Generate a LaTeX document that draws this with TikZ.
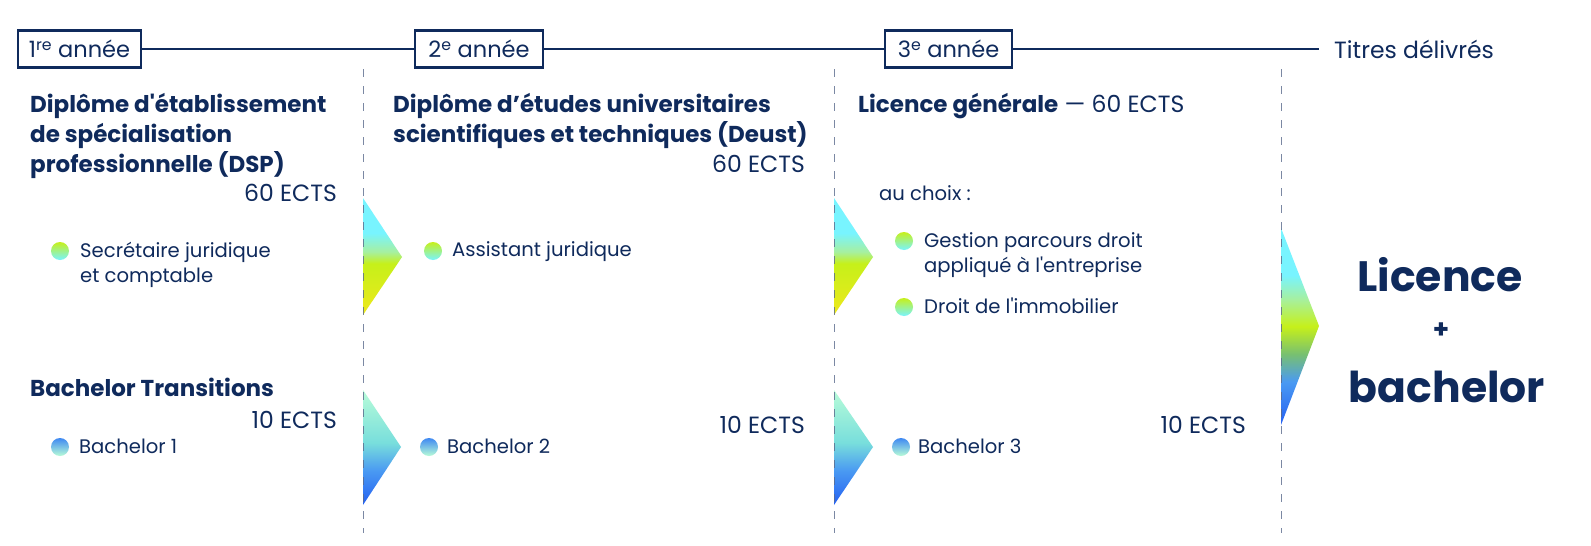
\documentclass[tikz,border=0pt]{standalone}
\usepackage{fontspec}
\setmainfont{Poppins}[Ligatures=TeXOff]
\definecolor{navy}{HTML}{0F2A5C}
\definecolor{dashc}{HTML}{5A6B8C}
% licence arrow colours
\definecolor{lc}{HTML}{78F4FF}
\definecolor{lc2}{HTML}{A6F0A0}
\definecolor{lg}{HTML}{C6F01A}
\definecolor{ly}{HTML}{EEE81C}
% bachelor arrow colours
\definecolor{bm}{HTML}{B8FCD8}
\definecolor{bt}{HTML}{78DEDC}
\definecolor{bb}{HTML}{4A9AF2}
\definecolor{bd}{HTML}{2460F2}
% final arrow
\definecolor{fg}{HTML}{78C070}
\pgfdeclareverticalshading{licshade}{100bp}{color(0bp)=(ly); color(25bp)=(ly); color(47bp)=(lg); color(52bp)=(lc2); color(60bp)=(lc); color(75bp)=(lc); color(100bp)=(lc)}
\pgfdeclareverticalshading{bachshade}{100bp}{color(0bp)=(bd); color(25bp)=(bd); color(40bp)=(bb); color(52bp)=(bt); color(75bp)=(bm); color(100bp)=(bm)}
\pgfdeclareverticalshading{finshade}{100bp}{color(0bp)=(bd); color(25bp)=(bd); color(36bp)=(bb); color(43bp)=(fg); color(50bp)=(lg); color(57bp)=(lc2); color(63bp)=(lc); color(75bp)=(lc); color(100bp)=(lc)}
\tikzset{
  yearbox/.style={draw=navy, line width=2.2pt, minimum height=37pt, inner sep=0pt, text=navy, font=\fontsize{22.5}{25}\selectfont},
  hline/.style={navy, line width=2pt},
  dashline/.style={dashc, line width=1pt, dash pattern=on 8pt off 9pt},
  titletext/.style={inner sep=0pt, text=navy, align=left, font=\bfseries\fontsize{23}{30}\selectfont},
  bodytext/.style={inner sep=0pt, text=navy, align=left, font=\fontsize{19.6}{25}\selectfont},
  ectstext/.style={inner sep=0pt, text=navy, font=\fontsize{23.5}{26}\selectfont},
  lbullet/.style={top color=lg, bottom color=lc},
  bbullet/.style={top color=bb!70!bd, bottom color=bm},
  bigtext/.style={inner sep=0pt, text=navy, font=\bfseries\fontsize{42.5}{52}\selectfont},
}
\begin{document}
\begin{tikzpicture}[x=1pt,y=-1pt]
\useasboundingbox[fill=white] (0,0) rectangle (1591,546);

% header
\node[yearbox, minimum width=123pt] (b1) at (79.5,49) {1\textsuperscript{re} année};
\node[yearbox, minimum width=128pt] (b2) at (479,49) {2\textsuperscript{e} année};
\node[yearbox, minimum width=127pt] (b3) at (948.5,49) {3\textsuperscript{e} année};
\coordinate (lend) at (1319,49);
\draw[hline] (b1) -- (b2);
\draw[hline] (b2) -- (b3);
\draw[hline] (b3) -- (lend);
\node[ectstext, anchor=base west] (titres) at (1334,58) {Titres délivrés};

% arrows
\shade[shading=licshade] (363,198) -- (402,257) -- (363,315) -- cycle;
\shade[shading=bachshade] (363,390) -- (401,447) -- (363,505) -- cycle;
\shade[shading=licshade] (834,198) -- (873,257) -- (834,315) -- cycle;
\shade[shading=bachshade] (834,390) -- (873,447) -- (834,505) -- cycle;
\shade[shading=finshade] (1281,228) -- (1319,326) -- (1281,425) -- cycle;

% dashed separators
\draw[dashline, opacity=0.8] (363,69) -- (363,533);
\draw[dashline, opacity=0.8] (834,69) -- (834,533);
\draw[dashline, opacity=0.8] (1281,69) -- (1281,533);

% column 1
\node[titletext, anchor=base west] (t1) at (30,172) {Diplôme d'établissement\\de spécialisation\\professionnelle (DSP)};
\node[ectstext, anchor=base east] (e1) at (337,201) {60 ECTS};
\shade[lbullet] (60,251) circle (9);
\node[bodytext, anchor=base west] (s1) at (80,282) {Secrétaire juridique\\et comptable};
\node[titletext, anchor=base west] (t1b) at (30,396) {Bachelor Transitions};
\node[ectstext, anchor=base east] (e1b) at (337,428) {10 ECTS};
\shade[bbullet] (60,447) circle (9);
\node[bodytext, anchor=base west] (s1b) at (79,453) {Bachelor 1};

% column 2
\node[titletext, anchor=base west] (t2) at (393,142) {Diplôme d’études universitaires\\scientifiques et techniques (Deust)};
\node[ectstext, anchor=base east] (e2) at (805,172) {60 ECTS};
\shade[lbullet] (433,251) circle (9);
\node[bodytext, anchor=base west] (s2) at (452,256) {Assistant juridique};
\node[ectstext, anchor=base east] (e2b) at (805,433) {10 ECTS};
\shade[bbullet] (429,447) circle (9);
\node[bodytext, anchor=base west] (s2b) at (447,453) {Bachelor 2};

% column 3
\node[ectstext, anchor=base west] (t3) at (858,112) {{\bfseries\fontsize{23}{30}\selectfont Licence générale} — 60 ECTS};
\node[bodytext, anchor=base west] (ch) at (879,200) {au choix :};
\shade[lbullet] (904,241) circle (9);
\node[bodytext, anchor=base west] (s3a) at (924,272) {Gestion parcours droit\\appliqué à l'entreprise};
\shade[lbullet] (904,307) circle (9);
\node[bodytext, anchor=base west] (s3b) at (924,313) {Droit de l'immobilier};
\node[ectstext, anchor=base east] (e3b) at (1246,433) {10 ECTS};
\shade[bbullet] (901,447) circle (9);
\node[bodytext, anchor=base west] (s3c) at (918,453) {Bachelor 3};

% final titles
\node[bigtext, anchor=base] (lic) at (1440,291) {Licence};
\node[inner sep=0pt, text=navy, font=\bfseries\fontsize{26}{34}\selectfont] (plus) at (1441,331) {+};
\node[bigtext, anchor=base] (bach) at (1447,402) {bachelor};
\end{tikzpicture}
\end{document}
